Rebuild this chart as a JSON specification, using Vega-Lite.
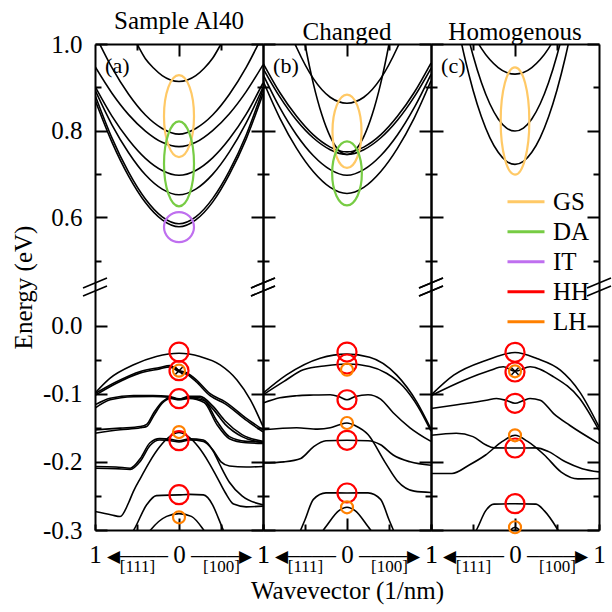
{
"$schema": "https://vega.github.io/schema/vega-lite/v6.json",
"background": "white",
"padding": {"left": 11, "top": 9, "right": 0, "bottom": 4},
"bounds": "flush",
"spacing": 0,
"config": {
  "font": "Liberation Serif",
  "view": {"stroke": null},
  "axis": {"domainColor": "black", "domainWidth": 2, "tickColor": "black", "tickWidth": 2, "grid": false, "labelFont": "Liberation Serif", "labelFontSize": 25, "labelColor": "black", "titleFont": "Liberation Serif", "titleFontSize": 25, "titleFontWeight": "normal", "titleColor": "black", "labelOverlap": false, "labelFlush": false, "labelBound": false},
  "title": {"font": "Liberation Serif", "fontSize": 25, "fontWeight": "normal", "color": "black", "offset": -2},
  "legend": {"labelFont": "Liberation Serif", "labelFontSize": 25, "labelColor": "black"}
},
"datasets": {
  "curves": [
    {"p":"a","c":"u1","k":-0.7,"E":1.08},{"p":"a","c":"u1","k":-0.6,"E":1.035},{"p":"a","c":"u1","k":-0.5,"E":1.0},{"p":"a","c":"u1","k":-0.4,"E":0.966},{"p":"a","c":"u1","k":-0.3,"E":0.944},{"p":"a","c":"u1","k":-0.2,"E":0.927},{"p":"a","c":"u1","k":-0.1,"E":0.917},{"p":"a","c":"u1","k":0,"E":0.9135},{"p":"a","c":"u1","k":0.1,"E":0.917},{"p":"a","c":"u1","k":0.2,"E":0.927},{"p":"a","c":"u1","k":0.3,"E":0.944},{"p":"a","c":"u1","k":0.4,"E":0.967},{"p":"a","c":"u1","k":0.5,"E":1.0},{"p":"a","c":"u1","k":0.6,"E":1.035},{"p":"a","c":"u1","k":0.7,"E":1.08},
    {"p":"a","c":"u2","k":-1,"E":1.022},{"p":"a","c":"u2","k":-0.8,"E":0.946},{"p":"a","c":"u2","k":-0.6,"E":0.884},{"p":"a","c":"u2","k":-0.4,"E":0.836},{"p":"a","c":"u2","k":-0.2,"E":0.805},{"p":"a","c":"u2","k":0,"E":0.792},{"p":"a","c":"u2","k":0.2,"E":0.805},{"p":"a","c":"u2","k":0.4,"E":0.836},{"p":"a","c":"u2","k":0.6,"E":0.884},{"p":"a","c":"u2","k":0.8,"E":0.946},{"p":"a","c":"u2","k":1,"E":1.022},
    {"p":"a","c":"u3","k":-1,"E":0.948},{"p":"a","c":"u3","k":-0.8,"E":0.887},{"p":"a","c":"u3","k":-0.6,"E":0.837},{"p":"a","c":"u3","k":-0.4,"E":0.799},{"p":"a","c":"u3","k":-0.2,"E":0.773},{"p":"a","c":"u3","k":0,"E":0.763},{"p":"a","c":"u3","k":0.2,"E":0.773},{"p":"a","c":"u3","k":0.4,"E":0.8},{"p":"a","c":"u3","k":0.6,"E":0.839},{"p":"a","c":"u3","k":0.8,"E":0.89},{"p":"a","c":"u3","k":1,"E":0.952},
    {"p":"a","c":"u4","k":-1,"E":0.902},{"p":"a","c":"u4","k":-0.8,"E":0.834},{"p":"a","c":"u4","k":-0.6,"E":0.779},{"p":"a","c":"u4","k":-0.4,"E":0.736},{"p":"a","c":"u4","k":-0.2,"E":0.708},{"p":"a","c":"u4","k":0,"E":0.697},{"p":"a","c":"u4","k":0.2,"E":0.708},{"p":"a","c":"u4","k":0.4,"E":0.737},{"p":"a","c":"u4","k":0.6,"E":0.781},{"p":"a","c":"u4","k":0.8,"E":0.838},{"p":"a","c":"u4","k":1,"E":0.91},
    {"p":"a","c":"u5","k":-1,"E":0.894},{"p":"a","c":"u5","k":-0.8,"E":0.814},{"p":"a","c":"u5","k":-0.6,"E":0.749},{"p":"a","c":"u5","k":-0.4,"E":0.698},{"p":"a","c":"u5","k":-0.2,"E":0.665},{"p":"a","c":"u5","k":0,"E":0.652},{"p":"a","c":"u5","k":0.2,"E":0.665},{"p":"a","c":"u5","k":0.4,"E":0.699},{"p":"a","c":"u5","k":0.6,"E":0.751},{"p":"a","c":"u5","k":0.8,"E":0.818},{"p":"a","c":"u5","k":1,"E":0.9},
    {"p":"a","c":"u6","k":-1,"E":0.8825},{"p":"a","c":"u6","k":-0.8,"E":0.784},{"p":"a","c":"u6","k":-0.6,"E":0.704},{"p":"a","c":"u6","k":-0.4,"E":0.642},{"p":"a","c":"u6","k":-0.2,"E":0.601},{"p":"a","c":"u6","k":0,"E":0.585},{"p":"a","c":"u6","k":0.2,"E":0.601},{"p":"a","c":"u6","k":0.4,"E":0.643},{"p":"a","c":"u6","k":0.6,"E":0.707},{"p":"a","c":"u6","k":0.8,"E":0.79},{"p":"a","c":"u6","k":1,"E":0.895},
    {"p":"a","c":"u7","k":-1,"E":0.871},{"p":"a","c":"u7","k":-0.8,"E":0.774},{"p":"a","c":"u7","k":-0.6,"E":0.695},{"p":"a","c":"u7","k":-0.4,"E":0.634},{"p":"a","c":"u7","k":-0.2,"E":0.594},{"p":"a","c":"u7","k":0,"E":0.578},{"p":"a","c":"u7","k":0.2,"E":0.594},{"p":"a","c":"u7","k":0.4,"E":0.635},{"p":"a","c":"u7","k":0.6,"E":0.699},{"p":"a","c":"u7","k":0.8,"E":0.781},{"p":"a","c":"u7","k":1,"E":0.885},
    {"p":"a","c":"A1","k":-1,"E":-0.0993},{"p":"a","c":"A1","k":-0.82,"E":-0.0773},{"p":"a","c":"A1","k":-0.54,"E":-0.0577},{"p":"a","c":"A1","k":-0.27,"E":-0.0455},{"p":"a","c":"A1","k":0,"E":-0.0407},{"p":"a","c":"A1","k":0.25,"E":-0.0455},{"p":"a","c":"A1","k":0.49,"E":-0.0577},{"p":"a","c":"A1","k":0.69,"E":-0.0798},{"p":"a","c":"A1","k":0.85,"E":-0.109},{"p":"a","c":"A1","k":1,"E":-0.148},
    {"p":"a","c":"A2","k":-1,"E":-0.1},{"p":"a","c":"A2","k":-0.75,"E":-0.083},{"p":"a","c":"A2","k":-0.46,"E":-0.0675},{"p":"a","c":"A2","k":-0.23,"E":-0.0616},{"p":"a","c":"A2","k":-0.11,"E":-0.0587},{"p":"a","c":"A2","k":0,"E":-0.066},{"p":"a","c":"A2","k":0.1,"E":-0.07},{"p":"a","c":"A2","k":0.2,"E":-0.079},{"p":"a","c":"A2","k":0.37,"E":-0.1},{"p":"a","c":"A2","k":0.55,"E":-0.112},{"p":"a","c":"A2","k":0.79,"E":-0.135},{"p":"a","c":"A2","k":1,"E":-0.153},
    {"p":"a","c":"A3","k":-1,"E":-0.1025},{"p":"a","c":"A3","k":-0.75,"E":-0.085},{"p":"a","c":"A3","k":-0.46,"E":-0.0695},{"p":"a","c":"A3","k":-0.23,"E":-0.0636},{"p":"a","c":"A3","k":-0.11,"E":-0.0607},{"p":"a","c":"A3","k":0,"E":-0.068},{"p":"a","c":"A3","k":0.1,"E":-0.072},{"p":"a","c":"A3","k":0.2,"E":-0.082},{"p":"a","c":"A3","k":0.37,"E":-0.103},{"p":"a","c":"A3","k":0.55,"E":-0.115},{"p":"a","c":"A3","k":0.79,"E":-0.138},{"p":"a","c":"A3","k":1,"E":-0.156},
    {"p":"a","c":"A4","k":-1,"E":-0.1164},{"p":"a","c":"A4","k":-0.82,"E":-0.1066},{"p":"a","c":"A4","k":-0.54,"E":-0.1027},{"p":"a","c":"A4","k":-0.31,"E":-0.1027},{"p":"a","c":"A4","k":-0.12,"E":-0.104},{"p":"a","c":"A4","k":0,"E":-0.1076},{"p":"a","c":"A4","k":0.12,"E":-0.104},{"p":"a","c":"A4","k":0.25,"E":-0.104},{"p":"a","c":"A4","k":0.4,"E":-0.118},{"p":"a","c":"A4","k":0.55,"E":-0.14},{"p":"a","c":"A4","k":0.75,"E":-0.16},{"p":"a","c":"A4","k":1,"E":-0.17},
    {"p":"a","c":"A5","k":-1,"E":-0.1213},{"p":"a","c":"A5","k":-0.82,"E":-0.109},{"p":"a","c":"A5","k":-0.54,"E":-0.1045},{"p":"a","c":"A5","k":-0.31,"E":-0.104},{"p":"a","c":"A5","k":-0.12,"E":-0.105},{"p":"a","c":"A5","k":0,"E":-0.1085},{"p":"a","c":"A5","k":0.12,"E":-0.105},{"p":"a","c":"A5","k":0.25,"E":-0.106},{"p":"a","c":"A5","k":0.4,"E":-0.122},{"p":"a","c":"A5","k":0.55,"E":-0.145},{"p":"a","c":"A5","k":0.75,"E":-0.163},{"p":"a","c":"A5","k":1,"E":-0.172},
    {"p":"a","c":"A6","k":-1,"E":-0.1531},{"p":"a","c":"A6","k":-0.7,"E":-0.1505},{"p":"a","c":"A6","k":-0.46,"E":-0.1482},{"p":"a","c":"A6","k":-0.385,"E":-0.145},{"p":"a","c":"A6","k":-0.3,"E":-0.128},{"p":"a","c":"A6","k":-0.2,"E":-0.112},{"p":"a","c":"A6","k":-0.1,"E":-0.106},{"p":"a","c":"A6","k":0,"E":-0.108},{"p":"a","c":"A6","k":0.12,"E":-0.106},{"p":"a","c":"A6","k":0.3,"E":-0.11},{"p":"a","c":"A6","k":0.45,"E":-0.14},{"p":"a","c":"A6","k":0.6,"E":-0.163},{"p":"a","c":"A6","k":0.8,"E":-0.17},{"p":"a","c":"A6","k":1,"E":-0.171},
    {"p":"a","c":"A7","k":-1,"E":-0.158},{"p":"a","c":"A7","k":-0.7,"E":-0.153},{"p":"a","c":"A7","k":-0.46,"E":-0.15},{"p":"a","c":"A7","k":-0.385,"E":-0.148},{"p":"a","c":"A7","k":-0.3,"E":-0.132},{"p":"a","c":"A7","k":-0.2,"E":-0.114},{"p":"a","c":"A7","k":-0.1,"E":-0.107},{"p":"a","c":"A7","k":0,"E":-0.109},{"p":"a","c":"A7","k":0.12,"E":-0.107},{"p":"a","c":"A7","k":0.3,"E":-0.113},{"p":"a","c":"A7","k":0.45,"E":-0.145},{"p":"a","c":"A7","k":0.6,"E":-0.166},{"p":"a","c":"A7","k":0.8,"E":-0.172},{"p":"a","c":"A7","k":1,"E":-0.173},
    {"p":"a","c":"A8","k":-1,"E":-0.2069},{"p":"a","c":"A8","k":-0.75,"E":-0.2075},{"p":"a","c":"A8","k":-0.58,"E":-0.2093},{"p":"a","c":"A8","k":-0.46,"E":-0.195},{"p":"a","c":"A8","k":-0.345,"E":-0.172},{"p":"a","c":"A8","k":-0.23,"E":-0.166},{"p":"a","c":"A8","k":-0.1,"E":-0.167},{"p":"a","c":"A8","k":0,"E":-0.1692},{"p":"a","c":"A8","k":0.13,"E":-0.1663},{"p":"a","c":"A8","k":0.29,"E":-0.168},{"p":"a","c":"A8","k":0.41,"E":-0.185},{"p":"a","c":"A8","k":0.49,"E":-0.205},{"p":"a","c":"A8","k":0.6,"E":-0.23},{"p":"a","c":"A8","k":0.75,"E":-0.25},{"p":"a","c":"A8","k":1,"E":-0.263},
    {"p":"a","c":"A9","k":-1,"E":-0.2093},{"p":"a","c":"A9","k":-0.75,"E":-0.21},{"p":"a","c":"A9","k":-0.58,"E":-0.211},{"p":"a","c":"A9","k":-0.46,"E":-0.199},{"p":"a","c":"A9","k":-0.345,"E":-0.176},{"p":"a","c":"A9","k":-0.23,"E":-0.168},{"p":"a","c":"A9","k":-0.1,"E":-0.169},{"p":"a","c":"A9","k":0,"E":-0.171},{"p":"a","c":"A9","k":0.13,"E":-0.168},{"p":"a","c":"A9","k":0.29,"E":-0.17},{"p":"a","c":"A9","k":0.4,"E":-0.182},{"p":"a","c":"A9","k":0.5,"E":-0.2},{"p":"a","c":"A9","k":0.6,"E":-0.206},{"p":"a","c":"A9","k":0.8,"E":-0.2075},{"p":"a","c":"A9","k":1,"E":-0.2069},
    {"p":"a","c":"A10","k":-1,"E":-0.2729},{"p":"a","c":"A10","k":-0.8,"E":-0.278},{"p":"a","c":"A10","k":-0.7,"E":-0.2803},{"p":"a","c":"A10","k":-0.6,"E":-0.26},{"p":"a","c":"A10","k":-0.544,"E":-0.2436},{"p":"a","c":"A10","k":-0.45,"E":-0.222},{"p":"a","c":"A10","k":-0.35,"E":-0.2},{"p":"a","c":"A10","k":-0.23,"E":-0.178},{"p":"a","c":"A10","k":-0.1,"E":-0.162},{"p":"a","c":"A10","k":0,"E":-0.157},{"p":"a","c":"A10","k":0.1,"E":-0.162},{"p":"a","c":"A10","k":0.23,"E":-0.178},{"p":"a","c":"A10","k":0.35,"E":-0.2},{"p":"a","c":"A10","k":0.45,"E":-0.222},{"p":"a","c":"A10","k":0.55,"E":-0.245},{"p":"a","c":"A10","k":0.65,"E":-0.262},{"p":"a","c":"A10","k":0.8,"E":-0.266},{"p":"a","c":"A10","k":1,"E":-0.265},
    {"p":"a","c":"A11","k":-0.6,"E":-0.31},{"p":"a","c":"A11","k":-0.544,"E":-0.301},{"p":"a","c":"A11","k":-0.385,"E":-0.263},{"p":"a","c":"A11","k":-0.27,"E":-0.2495},{"p":"a","c":"A11","k":0,"E":-0.2485},{"p":"a","c":"A11","k":0.13,"E":-0.2478},{"p":"a","c":"A11","k":0.29,"E":-0.2485},{"p":"a","c":"A11","k":0.4,"E":-0.263},{"p":"a","c":"A11","k":0.47,"E":-0.283},{"p":"a","c":"A11","k":0.53,"E":-0.301},{"p":"a","c":"A11","k":0.6,"E":-0.32},
    {"p":"a","c":"A12","k":-0.45,"E":-0.32},{"p":"a","c":"A12","k":-0.345,"E":-0.301},{"p":"a","c":"A12","k":-0.147,"E":-0.28},{"p":"a","c":"A12","k":0,"E":-0.276},{"p":"a","c":"A12","k":0.147,"E":-0.28},{"p":"a","c":"A12","k":0.3,"E":-0.301},{"p":"a","c":"A12","k":0.4,"E":-0.32},
    {"p":"b","c":"u1","k":-0.8,"E":1.09},{"p":"b","c":"u1","k":-0.7,"E":1.037},{"p":"b","c":"u1","k":-0.6,"E":0.992},{"p":"b","c":"u1","k":-0.4,"E":0.92},{"p":"b","c":"u1","k":-0.2,"E":0.877},{"p":"b","c":"u1","k":0,"E":0.8633},{"p":"b","c":"u1","k":0.2,"E":0.877},{"p":"b","c":"u1","k":0.4,"E":0.92},{"p":"b","c":"u1","k":0.6,"E":0.992},{"p":"b","c":"u1","k":0.7,"E":1.037},{"p":"b","c":"u1","k":0.8,"E":1.09},
    {"p":"b","c":"u2","k":-0.6,"E":1.112},{"p":"b","c":"u2","k":-0.5,"E":1.0},{"p":"b","c":"u2","k":-0.4,"E":0.908},{"p":"b","c":"u2","k":-0.3,"E":0.837},{"p":"b","c":"u2","k":-0.2,"E":0.786},{"p":"b","c":"u2","k":-0.1,"E":0.755},{"p":"b","c":"u2","k":0,"E":0.745},{"p":"b","c":"u2","k":0.1,"E":0.755},{"p":"b","c":"u2","k":0.2,"E":0.786},{"p":"b","c":"u2","k":0.3,"E":0.837},{"p":"b","c":"u2","k":0.4,"E":0.908},{"p":"b","c":"u2","k":0.5,"E":1.0},{"p":"b","c":"u2","k":0.6,"E":1.112},
    {"p":"b","c":"u3","k":-1,"E":0.956},{"p":"b","c":"u3","k":-0.8,"E":0.888},{"p":"b","c":"u3","k":-0.6,"E":0.833},{"p":"b","c":"u3","k":-0.4,"E":0.79},{"p":"b","c":"u3","k":-0.2,"E":0.762},{"p":"b","c":"u3","k":0,"E":0.751},{"p":"b","c":"u3","k":0.2,"E":0.762},{"p":"b","c":"u3","k":0.4,"E":0.79},{"p":"b","c":"u3","k":0.6,"E":0.833},{"p":"b","c":"u3","k":0.8,"E":0.888},{"p":"b","c":"u3","k":1,"E":0.956},
    {"p":"b","c":"u4","k":-1,"E":0.944},{"p":"b","c":"u4","k":-0.8,"E":0.878},{"p":"b","c":"u4","k":-0.6,"E":0.824},{"p":"b","c":"u4","k":-0.4,"E":0.783},{"p":"b","c":"u4","k":-0.2,"E":0.756},{"p":"b","c":"u4","k":0,"E":0.745},{"p":"b","c":"u4","k":0.2,"E":0.756},{"p":"b","c":"u4","k":0.4,"E":0.783},{"p":"b","c":"u4","k":0.6,"E":0.824},{"p":"b","c":"u4","k":0.8,"E":0.878},{"p":"b","c":"u4","k":1,"E":0.944},
    {"p":"b","c":"u5","k":-1,"E":0.93},{"p":"b","c":"u5","k":-0.8,"E":0.853},{"p":"b","c":"u5","k":-0.6,"E":0.79},{"p":"b","c":"u5","k":-0.4,"E":0.742},{"p":"b","c":"u5","k":-0.2,"E":0.71},{"p":"b","c":"u5","k":0,"E":0.697},{"p":"b","c":"u5","k":0.2,"E":0.71},{"p":"b","c":"u5","k":0.4,"E":0.742},{"p":"b","c":"u5","k":0.6,"E":0.79},{"p":"b","c":"u5","k":0.8,"E":0.853},{"p":"b","c":"u5","k":1,"E":0.93},
    {"p":"b","c":"u6","k":-1,"E":0.915},{"p":"b","c":"u6","k":-0.8,"E":0.829},{"p":"b","c":"u6","k":-0.6,"E":0.759},{"p":"b","c":"u6","k":-0.4,"E":0.705},{"p":"b","c":"u6","k":-0.2,"E":0.669},{"p":"b","c":"u6","k":0,"E":0.655},{"p":"b","c":"u6","k":0.2,"E":0.669},{"p":"b","c":"u6","k":0.4,"E":0.705},{"p":"b","c":"u6","k":0.6,"E":0.759},{"p":"b","c":"u6","k":0.8,"E":0.829},{"p":"b","c":"u6","k":1,"E":0.915},
    {"p":"b","c":"B1","k":-1,"E":-0.0993},{"p":"b","c":"B1","k":-0.72,"E":-0.0724},{"p":"b","c":"B1","k":-0.32,"E":-0.0479},{"p":"b","c":"B1","k":0,"E":-0.042},{"p":"b","c":"B1","k":0.27,"E":-0.0465},{"p":"b","c":"B1","k":0.59,"E":-0.0724},{"p":"b","c":"B1","k":0.83,"E":-0.112},{"p":"b","c":"B1","k":1,"E":-0.152},
    {"p":"b","c":"B2","k":-1,"E":-0.1017},{"p":"b","c":"B2","k":-0.75,"E":-0.082},{"p":"b","c":"B2","k":-0.52,"E":-0.065},{"p":"b","c":"B2","k":-0.25,"E":-0.059},{"p":"b","c":"B2","k":0,"E":-0.0565},{"p":"b","c":"B2","k":0.27,"E":-0.06},{"p":"b","c":"B2","k":0.47,"E":-0.07},{"p":"b","c":"B2","k":0.67,"E":-0.0895},{"p":"b","c":"B2","k":0.85,"E":-0.12},{"p":"b","c":"B2","k":1,"E":-0.155},
    {"p":"b","c":"B3","k":-1,"E":-0.1137},{"p":"b","c":"B3","k":-0.8,"E":-0.106},{"p":"b","c":"B3","k":-0.6,"E":-0.103},{"p":"b","c":"B3","k":-0.4,"E":-0.102},{"p":"b","c":"B3","k":-0.2,"E":-0.1015},{"p":"b","c":"B3","k":-0.1,"E":-0.104},{"p":"b","c":"B3","k":0,"E":-0.109},{"p":"b","c":"B3","k":0.1,"E":-0.104},{"p":"b","c":"B3","k":0.25,"E":-0.1015},{"p":"b","c":"B3","k":0.4,"E":-0.108},{"p":"b","c":"B3","k":0.55,"E":-0.128},{"p":"b","c":"B3","k":0.75,"E":-0.15},{"p":"b","c":"B3","k":1,"E":-0.17},
    {"p":"b","c":"B4","k":-1,"E":-0.153},{"p":"b","c":"B4","k":-0.6,"E":-0.15},{"p":"b","c":"B4","k":-0.35,"E":-0.152},{"p":"b","c":"B4","k":-0.2,"E":-0.15},{"p":"b","c":"B4","k":-0.1,"E":-0.146},{"p":"b","c":"B4","k":0,"E":-0.143},{"p":"b","c":"B4","k":0.1,"E":-0.147},{"p":"b","c":"B4","k":0.25,"E":-0.16},{"p":"b","c":"B4","k":0.45,"E":-0.2},{"p":"b","c":"B4","k":0.6,"E":-0.228},{"p":"b","c":"B4","k":0.8,"E":-0.243},{"p":"b","c":"B4","k":1,"E":-0.245},
    {"p":"b","c":"B5","k":-1,"E":-0.2017},{"p":"b","c":"B5","k":-0.75,"E":-0.2},{"p":"b","c":"B5","k":-0.55,"E":-0.195},{"p":"b","c":"B5","k":-0.4,"E":-0.178},{"p":"b","c":"B5","k":-0.25,"E":-0.169},{"p":"b","c":"B5","k":0,"E":-0.1684},{"p":"b","c":"B5","k":0.25,"E":-0.169},{"p":"b","c":"B5","k":0.4,"E":-0.175},{"p":"b","c":"B5","k":0.55,"E":-0.19},{"p":"b","c":"B5","k":0.75,"E":-0.2},{"p":"b","c":"B5","k":1,"E":-0.205},
    {"p":"b","c":"B6","k":-0.62,"E":-0.32},{"p":"b","c":"B6","k":-0.5,"E":-0.285},{"p":"b","c":"B6","k":-0.4,"E":-0.255},{"p":"b","c":"B6","k":-0.25,"E":-0.2455},{"p":"b","c":"B6","k":0,"E":-0.2457},{"p":"b","c":"B6","k":0.25,"E":-0.2455},{"p":"b","c":"B6","k":0.4,"E":-0.255},{"p":"b","c":"B6","k":0.5,"E":-0.285},{"p":"b","c":"B6","k":0.62,"E":-0.32},
    {"p":"b","c":"B7","k":-0.4,"E":-0.32},{"p":"b","c":"B7","k":-0.25,"E":-0.295},{"p":"b","c":"B7","k":-0.1,"E":-0.272},{"p":"b","c":"B7","k":0,"E":-0.2667},{"p":"b","c":"B7","k":0.1,"E":-0.272},{"p":"b","c":"B7","k":0.25,"E":-0.295},{"p":"b","c":"B7","k":0.4,"E":-0.32},
    {"p":"c","c":"u1","k":-0.6,"E":1.066},{"p":"c","c":"u1","k":-0.5,"E":1.024},{"p":"c","c":"u1","k":-0.4,"E":0.99},{"p":"c","c":"u1","k":-0.3,"E":0.964},{"p":"c","c":"u1","k":-0.2,"E":0.9455},{"p":"c","c":"u1","k":-0.1,"E":0.934},{"p":"c","c":"u1","k":0,"E":0.9305},{"p":"c","c":"u1","k":0.1,"E":0.934},{"p":"c","c":"u1","k":0.2,"E":0.9455},{"p":"c","c":"u1","k":0.3,"E":0.964},{"p":"c","c":"u1","k":0.4,"E":0.99},{"p":"c","c":"u1","k":0.5,"E":1.024},{"p":"c","c":"u1","k":0.6,"E":1.066},
    {"p":"c","c":"u2","k":-0.7,"E":1.142},{"p":"c","c":"u2","k":-0.6,"E":1.051},{"p":"c","c":"u2","k":-0.5,"E":0.974},{"p":"c","c":"u2","k":-0.4,"E":0.911},{"p":"c","c":"u2","k":-0.3,"E":0.862},{"p":"c","c":"u2","k":-0.2,"E":0.827},{"p":"c","c":"u2","k":-0.1,"E":0.806},{"p":"c","c":"u2","k":0,"E":0.799},{"p":"c","c":"u2","k":0.1,"E":0.806},{"p":"c","c":"u2","k":0.2,"E":0.827},{"p":"c","c":"u2","k":0.3,"E":0.862},{"p":"c","c":"u2","k":0.4,"E":0.911},{"p":"c","c":"u2","k":0.5,"E":0.974},{"p":"c","c":"u2","k":0.6,"E":1.051},{"p":"c","c":"u2","k":0.7,"E":1.142},
    {"p":"c","c":"u3","k":-0.8,"E":1.16},{"p":"c","c":"u3","k":-0.7,"E":1.06},{"p":"c","c":"u3","k":-0.6,"E":0.97},{"p":"c","c":"u3","k":-0.5,"E":0.894},{"p":"c","c":"u3","k":-0.4,"E":0.832},{"p":"c","c":"u3","k":-0.3,"E":0.784},{"p":"c","c":"u3","k":-0.2,"E":0.75},{"p":"c","c":"u3","k":-0.1,"E":0.729},{"p":"c","c":"u3","k":0,"E":0.722},{"p":"c","c":"u3","k":0.1,"E":0.729},{"p":"c","c":"u3","k":0.2,"E":0.75},{"p":"c","c":"u3","k":0.3,"E":0.784},{"p":"c","c":"u3","k":0.4,"E":0.832},{"p":"c","c":"u3","k":0.5,"E":0.894},{"p":"c","c":"u3","k":0.6,"E":0.97},{"p":"c","c":"u3","k":0.7,"E":1.06},{"p":"c","c":"u3","k":0.8,"E":1.16},
    {"p":"c","c":"C1","k":-1,"E":-0.1022},{"p":"c","c":"C1","k":-0.73,"E":-0.0729},{"p":"c","c":"C1","k":-0.34,"E":-0.0509},{"p":"c","c":"C1","k":0,"E":-0.0396},{"p":"c","c":"C1","k":0.26,"E":-0.0484},{"p":"c","c":"C1","k":0.54,"E":-0.0655},{"p":"c","c":"C1","k":0.77,"E":-0.0973},{"p":"c","c":"C1","k":1,"E":-0.1487},
    {"p":"c","c":"C2","k":-1,"E":-0.103},{"p":"c","c":"C2","k":-0.6,"E":-0.08},{"p":"c","c":"C2","k":-0.3,"E":-0.066},{"p":"c","c":"C2","k":-0.14,"E":-0.0606},{"p":"c","c":"C2","k":0,"E":-0.0672},{"p":"c","c":"C2","k":0.18,"E":-0.0606},{"p":"c","c":"C2","k":0.46,"E":-0.0753},{"p":"c","c":"C2","k":0.77,"E":-0.1071},{"p":"c","c":"C2","k":1,"E":-0.1536},
    {"p":"c","c":"C3","k":-1,"E":-0.1218},{"p":"c","c":"C3","k":-0.73,"E":-0.1169},{"p":"c","c":"C3","k":-0.34,"E":-0.1096},{"p":"c","c":"C3","k":-0.22,"E":-0.1071},{"p":"c","c":"C3","k":-0.1,"E":-0.11},{"p":"c","c":"C3","k":0,"E":-0.1141},{"p":"c","c":"C3","k":0.1,"E":-0.11},{"p":"c","c":"C3","k":0.18,"E":-0.1071},{"p":"c","c":"C3","k":0.3,"E":-0.1096},{"p":"c","c":"C3","k":0.46,"E":-0.1292},{"p":"c","c":"C3","k":0.65,"E":-0.1463},{"p":"c","c":"C3","k":1,"E":-0.1732},
    {"p":"c","c":"C4","k":-1,"E":-0.2171},{"p":"c","c":"C4","k":-0.75,"E":-0.2171},{"p":"c","c":"C4","k":-0.55,"E":-0.205},{"p":"c","c":"C4","k":-0.35,"E":-0.19},{"p":"c","c":"C4","k":-0.15,"E":-0.17},{"p":"c","c":"C4","k":0,"E":-0.1611},{"p":"c","c":"C4","k":0.15,"E":-0.17},{"p":"c","c":"C4","k":0.35,"E":-0.19},{"p":"c","c":"C4","k":0.55,"E":-0.215},{"p":"c","c":"C4","k":0.75,"E":-0.225},{"p":"c","c":"C4","k":1,"E":-0.2245},
    {"p":"c","c":"C5","k":-1,"E":-0.161},{"p":"c","c":"C5","k":-0.7,"E":-0.158},{"p":"c","c":"C5","k":-0.5,"E":-0.163},{"p":"c","c":"C5","k":-0.35,"E":-0.175},{"p":"c","c":"C5","k":-0.25,"E":-0.1795},{"p":"c","c":"C5","k":0,"E":-0.1797},{"p":"c","c":"C5","k":0.25,"E":-0.1795},{"p":"c","c":"C5","k":0.4,"E":-0.185},{"p":"c","c":"C5","k":0.6,"E":-0.2},{"p":"c","c":"C5","k":0.8,"E":-0.21},{"p":"c","c":"C5","k":1,"E":-0.2147},
    {"p":"c","c":"C6","k":-0.55,"E":-0.32},{"p":"c","c":"C6","k":-0.45,"E":-0.2978},{"p":"c","c":"C6","k":-0.35,"E":-0.272},{"p":"c","c":"C6","k":-0.25,"E":-0.2621},{"p":"c","c":"C6","k":0,"E":-0.2614},{"p":"c","c":"C6","k":0.25,"E":-0.2621},{"p":"c","c":"C6","k":0.35,"E":-0.272},{"p":"c","c":"C6","k":0.5,"E":-0.2978},{"p":"c","c":"C6","k":0.6,"E":-0.32},
    {"p":"c","c":"C7","k":-0.15,"E":-0.32},{"p":"c","c":"C7","k":0,"E":-0.296},{"p":"c","c":"C7","k":0.15,"E":-0.32}
  ],
  "marks": [
    {"p":"a","t":"GS","E":0.8333},{"p":"a","t":"DA","E":0.7233},{"p":"a","t":"IT","E":0.5774},
    {"p":"a","t":"HH","E":-0.0389},{"p":"a","t":"HH","E":-0.0663},{"p":"a","t":"HH","E":-0.1074},{"p":"a","t":"HH","E":-0.169},{"p":"a","t":"HH","E":-0.2482},
    {"p":"a","t":"LH","E":-0.0663},{"p":"a","t":"LH","E":-0.1563},{"p":"a","t":"LH","E":-0.2814},
    {"p":"b","t":"GS","E":0.7984},{"p":"b","t":"DA","E":0.7014},
    {"p":"b","t":"HH","E":-0.0389},{"p":"b","t":"HH","E":-0.0565},{"p":"b","t":"HH","E":-0.1089},{"p":"b","t":"HH","E":-0.1684},{"p":"b","t":"HH","E":-0.2457},
    {"p":"b","t":"LH","E":-0.0648},{"p":"b","t":"LH","E":-0.143},{"p":"b","t":"LH","E":-0.2667},
    {"p":"c","t":"GS","E":0.8222},
    {"p":"c","t":"HH","E":-0.0393},{"p":"c","t":"HH","E":-0.0682},{"p":"c","t":"HH","E":-0.1141},{"p":"c","t":"HH","E":-0.1797},{"p":"c","t":"HH","E":-0.2614},
    {"p":"c","t":"LH","E":-0.0672},{"p":"c","t":"LH","E":-0.1611},{"p":"c","t":"LH","E":-0.296}
  ]
},
"hconcat": [
  {
    "title": "Sample Al40",
    "width": 168, "height": 486,
    "layer": [
      {"data": {"name": "curves"}, "transform": [{"filter": "datum.p=='a'"}],
       "mark": {"type": "line", "clip": true, "interpolate": "monotone", "color": "black", "strokeWidth": 1.6},
       "encoding": {
         "x": {"field": "k", "type": "quantitative", "scale": {"domain": [-1, 1], "nice": false, "zero": false},
               "axis": {"orient": "bottom", "values": [-1, -0.5, 0, 0.5, 1], "title": null,
                        "labelExpr": "datum.value==-0.5 ? ['◀────','[111]'] : datum.value==0.5 ? ['────▶','[100]'] : datum.value==0 ? '0' : '1'",
                        "labelFontSize": {"condition": {"test": "abs(datum.value)==0.5", "value": 17}, "value": 25},
                        "labelLineHeight": 10,
                        "tickSize": {"condition": {"test": "datum.value==0", "value": -12}, "value": -6},
                        "labelPadding": {"condition": {"test": "abs(datum.value)<0.9", "value": 24}, "value": 18}}},
         "y": {"field": "E", "type": "quantitative", "scale": {"domain": [-0.3, 0.0565, 0.439, 1.0], "range": [486, 243, 243, 0], "nice": false, "zero": false},
               "axis": {"orient": "left", "title": "Energy (eV)", "titlePadding": 6,
                        "values": [-0.3, -0.25, -0.2, -0.15, -0.1, -0.05, 0, 0.5, 0.6, 0.7, 0.8, 0.9, 1.0],
                        "labelExpr": "(datum.value==-0.3||datum.value==-0.2||datum.value==-0.1||datum.value==0||datum.value==0.6||datum.value==0.8||datum.value==1) ? (datum.value==0 ? '0.0' : datum.value==1 ? '1.0' : '' + datum.value) : ''",
                        "tickSize": {"condition": {"test": "datum.value==-0.3||datum.value==-0.2||datum.value==-0.1||datum.value==0||datum.value==0.6||datum.value==0.8||datum.value==1", "value": -12}, "value": -6},
                        "labelPadding": 25}},
         "detail": {"field": "c"}}},
      {"data": {"name": "marks"}, "transform": [{"filter": "datum.p=='a'"}],
       "mark": {"type": "point", "filled": false, "strokeWidth": 2.2, "opacity": 1},
       "encoding": {
         "x": {"datum": 0, "type": "quantitative", "axis": null},
         "y": {"field": "E", "type": "quantitative", "axis": null},
         "color": {"field": "t", "type": "nominal",
                   "scale": {"domain": ["GS", "DA", "IT", "HH", "LH"], "range": ["#FFC966", "#77CC44", "#BF6FEF", "#FF0000", "#FF8000"]},
                   "legend": {"orient": "none", "legendX": 411, "legendY": 143, "title": null, "symbolType": "stroke", "symbolSize": 1369, "symbolStrokeWidth": 3, "labelOffset": 7, "clipHeight": 29.5, "rowPadding": 0, "symbolOpacity": 1}},
         "shape": {"condition": [
             {"test": "datum.t=='GS'", "value": "M0,-1C0.202,-1,0.366,-0.552,0.366,0C0.366,0.552,0.202,1,0,1C-0.202,1,-0.366,0.552,-0.366,0C-0.366,-0.552,-0.202,-1,0,-1Z"},
             {"test": "datum.t=='DA'", "value": "M0,-1C0.195,-1,0.353,-0.552,0.353,0C0.353,0.552,0.195,1,0,1C-0.195,1,-0.353,0.552,-0.353,0C-0.353,-0.552,-0.195,-1,0,-1Z"}],
           "value": "circle"},
         "size": {"condition": [
             {"test": "datum.t=='GS'", "value": 6724},
             {"test": "datum.t=='DA'", "value": 7225},
             {"test": "datum.t=='IT'", "value": 900},
             {"test": "datum.t=='HH'", "value": 361}],
           "value": 144}}},
      {"data": {"values": [{}]},
       "mark": {"type": "point", "shape": "M-1,-1L1,1M-1,1L1,-1", "size": 49, "filled": false, "color": "black", "strokeWidth": 1.5, "opacity": 1},
       "encoding": {"x": {"datum": 0, "type": "quantitative", "axis": null}, "y": {"datum": -0.0663, "type": "quantitative", "axis": null}}},
      {"data": {"values": [{}]},
       "mark": {"type": "point", "shape": "M-1,0.08L1,-0.75M-1,0.75L1,-0.08", "size": 576, "filled": false, "color": "black", "strokeWidth": 1.6, "opacity": 1},
       "encoding": {
         "x": {"datum": -1, "type": "quantitative",
               "axis": {"orient": "top", "values": [-0.5, 0, 0.5], "labels": false, "title": null,
                        "tickSize": {"condition": {"test": "datum.value==0", "value": -12}, "value": -6}}},
         "y": {"datum": 0.0565, "type": "quantitative",
               "axis": {"orient": "right", "labels": false, "title": null,
                        "values": [-0.3, -0.25, -0.2, -0.15, -0.1, -0.05, 0, 0.5, 0.6, 0.7, 0.8, 0.9, 1.0],
                        "tickSize": {"condition": {"test": "datum.value==-0.3||datum.value==-0.2||datum.value==-0.1||datum.value==0||datum.value==0.6||datum.value==0.8||datum.value==1", "value": -12}, "value": -6}}}}},
      {"data": {"values": [{}]},
       "mark": {"type": "point", "shape": "M-1,0.08L1,-0.75M-1,0.75L1,-0.08", "size": 576, "filled": false, "color": "black", "strokeWidth": 1.6, "opacity": 1},
       "encoding": {"x": {"datum": 1, "type": "quantitative", "axis": null}, "y": {"datum": 0.0565, "type": "quantitative", "axis": null}}},
      {"data": {"values": [{}]},
       "mark": {"type": "text", "align": "left", "baseline": "middle", "fontSize": 22, "font": "Liberation Serif", "color": "black"},
       "encoding": {"x": {"datum": -0.88, "type": "quantitative", "axis": null}, "y": {"datum": 0.949, "type": "quantitative", "axis": null}, "text": {"value": "(a)"}}}
    ]
  },
  {
    "title": "Changed",
    "width": 168, "height": 486,
    "layer": [
      {"data": {"name": "curves"}, "transform": [{"filter": "datum.p=='b'"}],
       "mark": {"type": "line", "clip": true, "interpolate": "monotone", "color": "black", "strokeWidth": 1.6},
       "encoding": {
         "x": {"field": "k", "type": "quantitative", "scale": {"domain": [-1, 1], "nice": false, "zero": false},
               "axis": {"orient": "bottom", "values": [-1, -0.5, 0, 0.5, 1], "title": "Wavevector (1/nm)", "titlePadding": 4,
                        "labelExpr": "datum.value==-0.5 ? ['◀────','[111]'] : datum.value==0.5 ? ['────▶','[100]'] : datum.value==0 ? '0' : '1'",
                        "labelFontSize": {"condition": {"test": "abs(datum.value)==0.5", "value": 17}, "value": 25},
                        "labelLineHeight": 10,
                        "tickSize": {"condition": {"test": "datum.value==0", "value": -12}, "value": -6},
                        "labelPadding": {"condition": {"test": "abs(datum.value)<0.9", "value": 24}, "value": 18}}},
         "y": {"field": "E", "type": "quantitative", "scale": {"domain": [-0.3, 0.0565, 0.439, 1.0], "range": [486, 243, 243, 0], "nice": false, "zero": false},
               "axis": {"orient": "left", "title": null, "labels": false,
                        "values": [-0.3, -0.25, -0.2, -0.15, -0.1, -0.05, 0, 0.5, 0.6, 0.7, 0.8, 0.9, 1.0],
                        "tickSize": {"condition": {"test": "datum.value==-0.3||datum.value==-0.2||datum.value==-0.1||datum.value==0||datum.value==0.6||datum.value==0.8||datum.value==1", "value": -12}, "value": -6}}},
         "detail": {"field": "c"}}},
      {"data": {"name": "marks"}, "transform": [{"filter": "datum.p=='b'"}],
       "mark": {"type": "point", "filled": false, "strokeWidth": 2.2, "opacity": 1},
       "encoding": {
         "x": {"datum": 0, "type": "quantitative", "axis": null},
         "y": {"field": "E", "type": "quantitative", "axis": null},
         "color": {"field": "t", "type": "nominal"},
         "shape": {"condition": [
             {"test": "datum.t=='GS'", "value": "M0,-1C0.219,-1,0.396,-0.552,0.396,0C0.396,0.552,0.219,1,0,1C-0.219,1,-0.396,0.552,-0.396,0C-0.396,-0.552,-0.219,-1,0,-1Z"},
             {"test": "datum.t=='DA'", "value": "M0,-1C0.256,-1,0.464,-0.552,0.464,0C0.464,0.552,0.256,1,0,1C-0.256,1,-0.464,0.552,-0.464,0C-0.464,-0.552,-0.256,-1,0,-1Z"}],
           "value": "circle"},
         "size": {"condition": [
             {"test": "datum.t=='GS'", "value": 5373},
             {"test": "datum.t=='DA'", "value": 4096},
             {"test": "datum.t=='HH'", "value": 361}],
           "value": 144}}},
      {"data": {"values": [{}]},
       "mark": {"type": "point", "shape": "M-1,0.08L1,-0.75M-1,0.75L1,-0.08", "size": 576, "filled": false, "color": "black", "strokeWidth": 1.6, "opacity": 1},
       "encoding": {
         "x": {"datum": -1, "type": "quantitative",
               "axis": {"orient": "top", "values": [-0.5, 0, 0.5], "labels": false, "title": null,
                        "tickSize": {"condition": {"test": "datum.value==0", "value": -12}, "value": -6}}},
         "y": {"datum": 0.0565, "type": "quantitative",
               "axis": {"orient": "right", "labels": false, "title": null,
                        "values": [-0.3, -0.25, -0.2, -0.15, -0.1, -0.05, 0, 0.5, 0.6, 0.7, 0.8, 0.9, 1.0],
                        "tickSize": {"condition": {"test": "datum.value==-0.3||datum.value==-0.2||datum.value==-0.1||datum.value==0||datum.value==0.6||datum.value==0.8||datum.value==1", "value": -12}, "value": -6}}}}},
      {"data": {"values": [{}]},
       "mark": {"type": "point", "shape": "M-1,0.08L1,-0.75M-1,0.75L1,-0.08", "size": 576, "filled": false, "color": "black", "strokeWidth": 1.6, "opacity": 1},
       "encoding": {"x": {"datum": 1, "type": "quantitative", "axis": null}, "y": {"datum": 0.0565, "type": "quantitative", "axis": null}}},
      {"data": {"values": [{}]},
       "mark": {"type": "text", "align": "left", "baseline": "middle", "fontSize": 22, "font": "Liberation Serif", "color": "black"},
       "encoding": {"x": {"datum": -0.88, "type": "quantitative", "axis": null}, "y": {"datum": 0.949, "type": "quantitative", "axis": null}, "text": {"value": "(b)"}}}
    ]
  },
  {
    "title": "Homogenous",
    "width": 168, "height": 486,
    "layer": [
      {"data": {"name": "curves"}, "transform": [{"filter": "datum.p=='c'"}],
       "mark": {"type": "line", "clip": true, "interpolate": "monotone", "color": "black", "strokeWidth": 1.6},
       "encoding": {
         "x": {"field": "k", "type": "quantitative", "scale": {"domain": [-1, 1], "nice": false, "zero": false},
               "axis": {"orient": "bottom", "values": [-1, -0.5, 0, 0.5, 1], "title": null,
                        "labelExpr": "datum.value==-0.5 ? ['◀────','[111]'] : datum.value==0.5 ? ['────▶','[100]'] : datum.value==0 ? '0' : '1'",
                        "labelFontSize": {"condition": {"test": "abs(datum.value)==0.5", "value": 17}, "value": 25},
                        "labelLineHeight": 10,
                        "tickSize": {"condition": {"test": "datum.value==0", "value": -12}, "value": -6},
                        "labelPadding": {"condition": {"test": "abs(datum.value)<0.9", "value": 24}, "value": 18}}},
         "y": {"field": "E", "type": "quantitative", "scale": {"domain": [-0.3, 0.0565, 0.439, 1.0], "range": [486, 243, 243, 0], "nice": false, "zero": false},
               "axis": {"orient": "left", "title": null, "labels": false,
                        "values": [-0.3, -0.25, -0.2, -0.15, -0.1, -0.05, 0, 0.5, 0.6, 0.7, 0.8, 0.9, 1.0],
                        "tickSize": {"condition": {"test": "datum.value==-0.3||datum.value==-0.2||datum.value==-0.1||datum.value==0||datum.value==0.6||datum.value==0.8||datum.value==1", "value": -12}, "value": -6}}},
         "detail": {"field": "c"}}},
      {"data": {"name": "marks"}, "transform": [{"filter": "datum.p=='c'"}],
       "mark": {"type": "point", "filled": false, "strokeWidth": 2.2, "opacity": 1},
       "encoding": {
         "x": {"datum": 0, "type": "quantitative", "axis": null},
         "y": {"field": "E", "type": "quantitative", "axis": null},
         "color": {"field": "t", "type": "nominal"},
         "shape": {"condition": [
             {"test": "datum.t=='GS'", "value": "M0,-1C0.148,-1,0.267,-0.552,0.267,0C0.267,0.552,0.148,1,0,1C-0.148,1,-0.267,0.552,-0.267,0C-0.267,-0.552,-0.148,-1,0,-1Z"}],
           "value": "circle"},
         "size": {"condition": [
             {"test": "datum.t=='GS'", "value": 11513},
             {"test": "datum.t=='HH'", "value": 361}],
           "value": 144}}},
      {"data": {"values": [{}]},
       "mark": {"type": "point", "shape": "M-1,-1L1,1M-1,1L1,-1", "size": 49, "filled": false, "color": "black", "strokeWidth": 1.5, "opacity": 1},
       "encoding": {"x": {"datum": 0, "type": "quantitative", "axis": null}, "y": {"datum": -0.0672, "type": "quantitative", "axis": null}}},
      {"data": {"values": [{}]},
       "mark": {"type": "point", "shape": "M-1,0.08L1,-0.75M-1,0.75L1,-0.08", "size": 576, "filled": false, "color": "black", "strokeWidth": 1.6, "opacity": 1},
       "encoding": {
         "x": {"datum": -1, "type": "quantitative",
               "axis": {"orient": "top", "values": [-0.5, 0, 0.5], "labels": false, "title": null,
                        "tickSize": {"condition": {"test": "datum.value==0", "value": -12}, "value": -6}}},
         "y": {"datum": 0.0565, "type": "quantitative",
               "axis": {"orient": "right", "labels": false, "title": null,
                        "values": [-0.3, -0.25, -0.2, -0.15, -0.1, -0.05, 0, 0.5, 0.6, 0.7, 0.8, 0.9, 1.0],
                        "tickSize": {"condition": {"test": "datum.value==-0.3||datum.value==-0.2||datum.value==-0.1||datum.value==0||datum.value==0.6||datum.value==0.8||datum.value==1", "value": -12}, "value": -6}}}}},
      {"data": {"values": [{}]},
       "mark": {"type": "point", "shape": "M-1,0.08L1,-0.75M-1,0.75L1,-0.08", "size": 576, "filled": false, "color": "black", "strokeWidth": 1.6, "opacity": 1},
       "encoding": {"x": {"datum": 1, "type": "quantitative", "axis": null}, "y": {"datum": 0.0565, "type": "quantitative", "axis": null}}},
      {"data": {"values": [{}]},
       "mark": {"type": "text", "align": "left", "baseline": "middle", "fontSize": 22, "font": "Liberation Serif", "color": "black"},
       "encoding": {"x": {"datum": -0.88, "type": "quantitative", "axis": null}, "y": {"datum": 0.949, "type": "quantitative", "axis": null}, "text": {"value": "(c)"}}}
    ]
  }
]
}
